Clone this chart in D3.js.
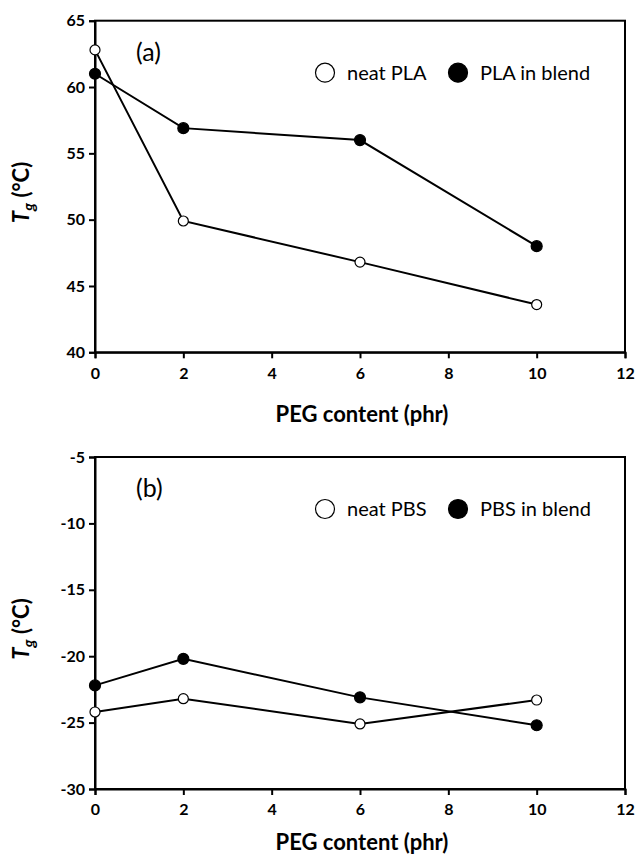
<!DOCTYPE html>
<html lang="en">
<head>
  <meta charset="UTF-8">
  <title>Tg vs PEG content</title>
  <script src="https://d3js.org/d3.v7.min.js"></script>
  <style>
    body { margin: 0; background: #fff; }
    text { font-family: Lato, "Open Sans", sans-serif; fill: #000; }
  </style>
</head>
<body>
  <div id="viz"></div>

  <script>
    // PEG content (phr)
    const pegContent = [0, 2, 6, 10];
    const xTicks = [0, 2, 4, 6, 8, 10, 12];

    // panel (a): PLA
    const neatPLA = [62.8, 49.9, 46.8, 43.6];
    const plaInBlend = [61.0, 56.9, 56.0, 48.0];
    const yTicksA = [40, 45, 50, 55, 60, 65];

    // panel (b): PBS
    const neatPBS = [-24.2, -23.2, -25.1, -23.3];
    const pbsInBlend = [-22.2, -20.2, -23.1, -25.2];
    const yTicksB = [-30, -25, -20, -15, -10, -5];

    const width = 636, height = 857;
    const left = 95, right = 625;

    const svg = d3.select('#viz')
      .append('svg')
        .attr('width', width)
        .attr('height', height);

    const x = d3.scaleLinear().domain([0, 12]).range([left, right]);

    function drawPanel(top, bottom, titleY, yTicks, label, series) {
      const y = d3.scaleLinear()
        .domain([yTicks[0], yTicks[yTicks.length - 1]])
        .range([bottom, top]);

      const g = svg.append('g');

      // frame
      g.append('rect')
        .attr('x', left).attr('y', top)
        .attr('width', right - left).attr('height', bottom - top)
        .attr('fill', 'none')
        .attr('stroke', '#000')
        .attr('stroke-width', 2);

      // axes (plain hyphen for negatives, like the original)
      const yAxis = g.append('g')
        .attr('transform', `translate(${left},0)`)
        .call(d3.axisLeft(y).tickValues(yTicks).tickSize(6).tickPadding(4).tickFormat(d => String(d)));
      const xAxis = g.append('g')
        .attr('transform', `translate(0,${bottom})`)
        .call(d3.axisBottom(x).tickValues(xTicks).tickSize(6).tickPadding(9).tickFormat(d => String(d)));

      [yAxis, xAxis].forEach(a => {
        a.select('.domain').attr('stroke-width', 2);
        a.selectAll('.tick line').attr('stroke-width', 2);
        a.selectAll('.tick text')
          .attr('font-family', 'Lato, sans-serif')
          .attr('font-size', 16)
          .attr('font-weight', 'bold');
      });

      // axis titles
      g.append('text')
        .attr('x', (left + right) / 2 + 2)
        .attr('y', titleY)
        .attr('text-anchor', 'middle')
        .attr('font-size', 22)
        .attr('font-weight', 'bold')
        .text('PEG content (phr)');

      const yt = g.append('text')
        .attr('transform', `translate(29,${(top + bottom) / 2 + 6}) rotate(-90)`)
        .attr('text-anchor', 'middle')
        .attr('font-size', 22)
        .attr('font-weight', 'bold');
      yt.append('tspan').attr('font-style', 'italic').text('T');
      yt.append('tspan').attr('font-style', 'italic').attr('font-size', 16).attr('dy', 5).text('g');
      yt.append('tspan').attr('dy', -5).text(' (°C)');

      // panel label
      g.append('text')
        .attr('x', left + 41)
        .attr('y', top + 40)
        .attr('font-size', 25)
        .text(label);

      // lines and markers
      const line = d3.line()
        .x((d, i) => x(pegContent[i]))
        .y(d => y(d));

      series.forEach(s => {
        g.append('path')
          .datum(s.values)
          .attr('d', line)
          .attr('fill', 'none')
          .attr('stroke', '#000')
          .attr('stroke-width', 2);
      });
      series.forEach(s => {
        g.selectAll(null)
          .data(s.values)
          .enter()
          .append('circle')
            .attr('cx', (d, i) => x(pegContent[i]))
            .attr('cy', d => y(d))
            .attr('r', s.filled ? 5.5 : 5)
            .attr('fill', s.filled ? '#000' : '#fff')
            .attr('stroke', '#000')
            .attr('stroke-width', 1.2);
      });

      // legend
      const legendX = [325, 458];
      const legendY = top + 52;
      series.forEach((s, i) => {
        g.append('circle')
          .attr('cx', legendX[i])
          .attr('cy', legendY)
          .attr('r', 9.5)
          .attr('fill', s.filled ? '#000' : '#fff')
          .attr('stroke', '#000')
          .attr('stroke-width', 1.2);
        g.append('text')
          .attr('x', legendX[i] + 22)
          .attr('y', legendY + 7)
          .attr('font-size', 20)
          .text(s.name);
      });
    }

    drawPanel(20.7, 352.3, 422, yTicksA, '(a)', [
      { name: 'neat PLA', values: neatPLA, filled: false },
      { name: 'PLA in blend', values: plaInBlend, filled: true }
    ]);

    drawPanel(457, 789, 850, yTicksB, '(b)', [
      { name: 'neat PBS', values: neatPBS, filled: false },
      { name: 'PBS in blend', values: pbsInBlend, filled: true }
    ]);
  </script>
</body>
</html>
